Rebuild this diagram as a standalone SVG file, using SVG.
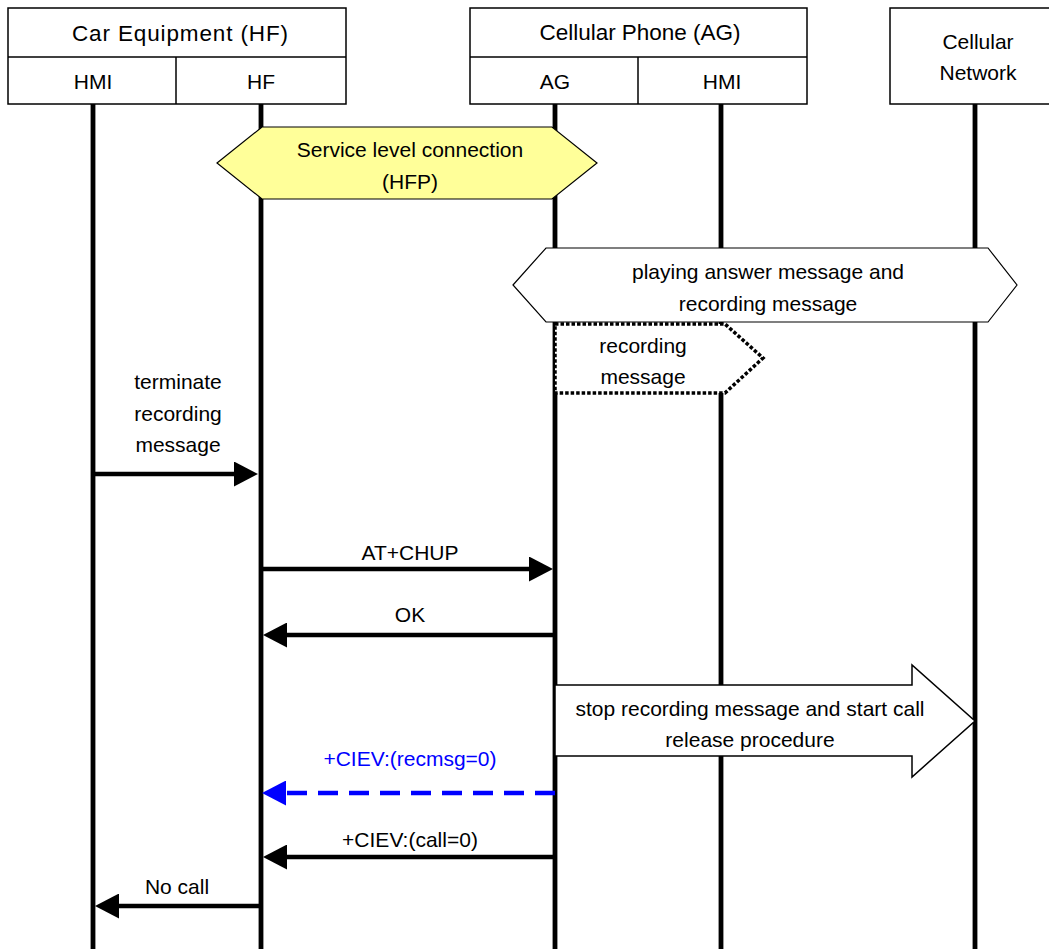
<svg xmlns="http://www.w3.org/2000/svg" width="1049" height="949" viewBox="0 0 1049 949">
<style>
text{font-family:"Liberation Sans",Arial,sans-serif;font-size:21px;fill:#000;text-anchor:middle}
.ttl{font-size:22.5px}
.box{fill:#fff;stroke:#000;stroke-width:1.5}
.life{stroke:#000;stroke-width:4.8}
.msg{stroke:#000;stroke-width:4.5;fill:none}
.blue{stroke:#0000ff;stroke-width:4.5;fill:none;stroke-dasharray:20 11}
.blt{fill:#0000ff}
.hex{stroke:#000;stroke-width:1.2}
</style>
<defs>
<marker id="ah" viewBox="0 -12.5 24 25" refX="2" refY="0" markerWidth="24" markerHeight="25" markerUnits="userSpaceOnUse" orient="auto"><path d="M0,-12.5 L24,0 L0,12.5 z" fill="#000"/></marker>
<marker id="ahb" viewBox="0 -12.5 24 25" refX="2" refY="0" markerWidth="24" markerHeight="25" markerUnits="userSpaceOnUse" orient="auto"><path d="M0,-12.5 L24,0 L0,12.5 z" fill="#0000ff"/></marker>
</defs>
<rect width="1049" height="949" fill="#fff"/>
<g id="lifelines">
<line class="life" x1="93" y1="104" x2="93" y2="949"/>
<line class="life" x1="261" y1="104" x2="261" y2="949"/>
<line class="life" x1="555" y1="104" x2="555" y2="949"/>
<line class="life" x1="721" y1="104" x2="721" y2="949"/>
<line class="life" x1="975" y1="104" x2="975" y2="949"/>
</g>
<g id="car-equipment">
<rect class="box" x="8" y="8" width="338" height="96"/>
<line stroke="#000" stroke-width="1.5" x1="8" y1="57" x2="346" y2="57"/>
<line stroke="#000" stroke-width="1.5" x1="176" y1="57" x2="176" y2="104"/>
<text class="ttl" x="180" y="41" textLength="216" lengthAdjust="spacing">Car Equipment (HF)</text>
<text x="93" y="89">HMI</text>
<text x="261" y="89">HF</text>
</g>
<g id="cellular-phone">
<rect class="box" x="470" y="8" width="337" height="96"/>
<line stroke="#000" stroke-width="1.5" x1="470" y1="57" x2="807" y2="57"/>
<line stroke="#000" stroke-width="1.5" x1="638" y1="57" x2="638" y2="104"/>
<text class="ttl" x="640" y="40" textLength="201" lengthAdjust="spacing">Cellular Phone (AG)</text>
<text x="555" y="89">AG</text>
<text x="722" y="89">HMI</text>
</g>
<g id="cellular-network">
<rect class="box" x="890" y="8" width="170" height="96"/>
<text x="978" y="49">Cellular</text>
<text x="978" y="80">Network</text>
</g>
<g id="service-level">
<polygon class="hex" fill="#ffff99" points="217,163 262,127 552,127 597,163 552,199 262,199"/>
<text x="410" y="157">Service level connection</text>
<text x="410" y="189">(HFP)</text>
</g>
<g id="playing-answer">
<polygon class="hex" fill="#fff" points="513,285 546,248 988,248 1017,285 988,322 546,322"/>
<text x="768" y="279">playing answer message and</text>
<text x="768" y="311">recording message</text>
</g>
<g id="recording-message">
<polygon fill="#fff" stroke="#000" stroke-width="3.5" stroke-dasharray="3.5 2" points="555,324 725,324 763,358 725,393 555,393"/>
<text x="643" y="353">recording</text>
<text x="643" y="384">message</text>
</g>
<g id="stop-recording">
<polygon fill="#fff" stroke="#000" stroke-width="1.5" points="555,685 912,685 912,665 975,721 912,777 912,756 555,756"/>
<text x="750" y="716">stop recording message and start call</text>
<text x="750" y="747">release procedure</text>
</g>
<g id="connectors">
<line class="msg" x1="93" y1="474" x2="236" y2="474" marker-end="url(#ah)"/>
<line class="msg" x1="261" y1="569" x2="531" y2="569" marker-end="url(#ah)"/>
<line class="msg" x1="555" y1="635" x2="285" y2="635" marker-end="url(#ah)"/>
<line class="blue" x1="555" y1="793" x2="284" y2="793" marker-end="url(#ahb)"/>
<line class="msg" x1="555" y1="857" x2="285" y2="857" marker-end="url(#ah)"/>
<line class="msg" x1="261" y1="906" x2="117" y2="906" marker-end="url(#ah)"/>
</g>
<g id="labels">
<text x="178" y="389">terminate</text>
<text x="178" y="421">recording</text>
<text x="178" y="452">message</text>
<text x="410" y="560">AT+CHUP</text>
<text x="410" y="622">OK</text>
<text class="blt" x="410" y="766">+CIEV:(recmsg=0)</text>
<text x="410" y="847">+CIEV:(call=0)</text>
<text x="177" y="894">No call</text>
</g>
</svg>
